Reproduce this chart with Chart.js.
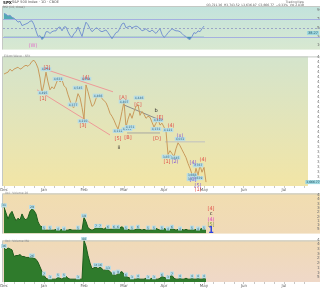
<!DOCTYPE html>
<html>
<head>
<meta charset="utf-8">
<script src="https://cdn.jsdelivr.net/npm/chart.js@4.4.1/dist/chart.umd.min.js"></script>
<style>
  body { margin: 0; width: 320px; height: 288px; overflow: hidden; background: #fff; }
  canvas { position: absolute; left: 0; }
</style>
</head>
<body>
<canvas id="rsiChart" width="320" height="53" style="top:0"></canvas>
<canvas id="priceChart" width="320" height="139" style="top:53px"></canvas>
<canvas id="volChart" width="320" height="47" style="top:190px"></canvas>
<canvas id="vol2Chart" width="320" height="51" style="top:237px"></canvas>
<script>
// x axis labels (one per tick index)
const tickLabels = ["Dec", "Jan", "Feb", "Mar", "Apr", "May", "Jun", "Jul"];
const tickIdx = [0, 20, 40, 60, 80, 100, 120, 140];

// RSI, one value per bar
const rsi = [83, 81, 77, 79, 74, 72, 68, 63, 65, 55,
  57, 59, 61, 65, 66, 57, 43, 30, 32, 23,
  28, 41, 41, 37, 41, 43, 43, 50, 52, 43,
  52, 52, 41, 32, 28, 37, 41, 52, 41, 30,
  48, 63, 57, 48, 41, 45, 50, 48, 43, 41,
  43, 45, 39, 32, 25, 32, 39, 41, 50, 59,
  61, 50, 52, 54, 50, 52, 54, 52, 48, 43,
  45, 48, 43, 41, 45, 41, 37, 43, 48, 35,
  28, 32, 39, 43, 48, 45, 43, 43, 41, 37,
  32, 30, 25, 23, 30, 39, 37, 43, 41, 48, 54];
const rsiTicks = [10, 30, 50, 70, 90];
const rsiLevels = [70, 50, 30];

// price closes
const price = [4683, 4693, 4702, 4732, 4712, 4732, 4742, 4752, 4732, 4742,
  4761, 4771, 4761, 4781, 4811, 4821, 4791, 4742, 4643, 4495,
  4584, 4702, 4604, 4525, 4555, 4535, 4584, 4633, 4604, 4624,
  4565, 4545, 4476, 4417, 4358, 4348, 4407, 4486, 4446, 4348,
  4230, 4574, 4505, 4427, 4358, 4377, 4436, 4466, 4476, 4436,
  4417, 4397, 4348, 4289, 4259, 4220, 4171, 4131, 4210, 4308,
  4407, 4151, 4230, 4289, 4239, 4308, 4358, 4377, 4269, 4308,
  4279, 4239, 4259, 4249, 4200, 4151, 4190, 4230, 4171, 4190,
  4151, 4111, 3875, 3914, 3885, 3855, 3934, 3993, 3964, 3924,
  3885, 3845, 3786, 3737, 3678, 3648, 3737, 3668, 3767, 3698,
  3747, 3599];
const priceTicks = [3600, 3650, 3700, 3750, 3800, 3850, 3900, 3950, 4000, 4050,
  4100, 4150, 4200, 4250, 4300, 4350, 4400, 4450, 4500, 4550,
  4600, 4650, 4700, 4750, 4800, 4850];

// drawn trend lines [startIdx, startPrice, endIdx, endPrice]
const upperChannel = [20.5, 4732, 54.5, 4505];
const lowerChannel = [16.5, 4525, 53, 4072];
const triangleTop = [59.5, 4377, 77, 4230];
const triangleBase = [61.5, 4092, 78, 4092];
const supportLine = [80.5, 4003, 100.5, 4003];

// wave labels [idx, price, text, colour]
const waveLabels = [
  [19.5, 4436, "[1]", "#e0504a"], [21.5, 4752, "[2]", "#e0504a"],
  [39.5, 4170, "[3]", "#e0504a"], [41, 4653, "[4]", "#e0504a"],
  [57, 4042, "[5]", "#e0504a"], [59.5, 4446, "[A]", "#e0504a"],
  [62, 4052, "[B]", "#e0504a"], [67, 4377, "[C]", "#e0504a"],
  [76.5, 4033, "[D]", "#e0504a"], [78, 4249, "[E]", "#e0504a"],
  [76, 4318, "b", "#222"], [57.5, 3944, "ii", "#222"],
  [83.5, 4171, "(4)", "#e0504a"], [88, 4072, "(x)", "#8a60d0"],
  [81.5, 3806, "[1]", "#e0504a"], [85.5, 3806, "(2)", "#8a60d0"],
  [94.5, 3796, "[4]", "#8a60d0"], [99.5, 3826, "(4)", "#e0504a"],
  [94.5, 3629, "[3]", "#8a60d0"], [97, 3570, "[5]", "#8a60d0"],
  [97, 3522, "(1)", "#e0504a"]];
// price tags on pivots [idx, price]
const pivotTags = [[19.5, 4495], [21, 4732], [27, 4633], [34.5, 4377], [37, 4545],
  [39.5, 4210], [41, 4634], [47, 4466], [57, 4112], [60, 4407], [61.5, 4131],
  [63, 4151], [67.5, 4446], [76, 4131], [77, 4220], [82, 4121], [88, 4032],
  [81.5, 3855], [85.5, 3845], [94, 3668], [97, 3767], [94, 3629], [97, 3639]];

// volume panels
const vol = [31, 24, 17, 23, 26, 20, 15, 18, 16, 23,
  18, 16, 19, 26, 29, 27, 23, 14, 9, 8,
  5, 4, 4, 5, 4, 4, 5, 4, 4, 5,
  4, 4, 4, 5, 4, 4, 4, 5, 4, 4,
  19, 14, 7, 5, 4, 5, 7, 6, 7, 6,
  5, 7, 6, 5, 5, 6, 7, 6, 7, 8,
  6, 5, 5, 4, 5, 4, 5, 6, 5, 4,
  5, 4, 5, 4, 4, 5, 6, 5, 4, 5,
  6, 5, 4, 5, 6, 5, 4, 5, 4, 5,
  4, 5, 4, 4, 5, 4, 5, 4, 5, 6, 5, 4];
const vol2 = [36, 34, 36, 35, 34, 27, 28, 28, 29, 27,
  27, 26, 26, 26, 26, 25, 24, 21, 16, 11,
  7, 4, 3, 3, 3, 3, 3, 5, 4, 3,
  5, 6, 4, 3, 3, 3, 3, 3, 3, 3,
  44, 38, 28, 20, 14, 15, 16, 14, 16, 14,
  12, 14, 13, 11, 9, 8, 7, 9, 10, 11,
  8, 6, 5, 4, 3, 3, 3, 4, 3, 3,
  3, 4, 3, 3, 4, 3, 3, 3, 4, 6,
  5, 4, 3, 6, 7, 4, 3, 3, 4, 3,
  3, 4, 3, 3, 4, 3, 3, 4, 3, 3, 4, 3];
const volTicks = [5, 10, 15, 20, 25, 30, 35, 40, 45];
const volTagIdx = [0, 14, 20, 23, 27, 30, 37, 40, 46, 48, 52, 55, 57, 61, 64, 67,
  72, 75, 79, 82, 84, 88, 94, 97, 100];
const volLabels = [[103.5, 30, "[4]", "#e0504a"], [103.5, 24, "c", "#222"],
  [103.5, 17, "(4)", "#e040c0"], [103.5, 11, "[5]", "#8a9a40"]];

const FONT = '"DejaVu Sans"';

/*
 * Gradient panel background
 */
function bgPlugin(top, bottom, full) {
  return {
    id: "bg",
    beforeDraw(chart) {
      const { ctx, chartArea: a, width } = chart;
      const g = ctx.createLinearGradient(0, a.top, 0, a.bottom);
      g.addColorStop(0, top);
      g.addColorStop(1, bottom);
      ctx.save();
      ctx.fillStyle = g;
      ctx.fillRect(a.left, a.top, (full ? width : a.right) - a.left, a.bottom - a.top);
      ctx.fillStyle = "#c4c8c4";
      ctx.fillRect(a.left - 1, a.top, 1, a.bottom - a.top);
      ctx.fillRect(a.left, a.top, width, 1);
      ctx.restore();
    },
  };
}

/*
 * Text labels placed in data coordinates
 */
function tagPlugin(items) {
  return {
    id: "tags",
    afterDatasetsDraw(chart) {
      const { ctx, scales } = chart;
      items.forEach((t) => {
        const px = scales.x.getPixelForValue(t.k);
        const py = scales.y.getPixelForValue(t.v);
        ctx.save();
        ctx.font = (t.bold ? "bold " : "") + (t.size || 5) + "px " + FONT;
        ctx.textAlign = "center";
        ctx.textBaseline = "middle";
        if (t.box) {
          const w = ctx.measureText(t.text).width + 2;
          ctx.fillStyle = t.box;
          ctx.fillRect(px - w / 2, py - 2, w, 4);
        }
        ctx.fillStyle = t.color;
        ctx.fillText(t.text, px, py + 0.3);
        ctx.restore();
      });
    },
  };
}

/*
 * Header texts in pixel positions
 */
function textPlugin(items) {
  return {
    id: "texts",
    afterDraw(chart) {
      const ctx = chart.ctx;
      items.forEach((t) => {
        ctx.save();
        ctx.font = (t.bold ? "bold " : "") + t.size + "px " + FONT;
        ctx.textAlign = t.align || "left";
        ctx.textBaseline = "middle";
        ctx.fillStyle = t.color;
        ctx.fillText(t.text, t.x, t.y);
        ctx.restore();
      });
    },
  };
}

function levelPlugin(levels) {
  return {
    id: "levels",
    beforeDatasetsDraw(chart) {
      const { ctx, chartArea: a, scales } = chart;
      levels.forEach((lv) => {
        const y = Math.round(scales.y.getPixelForValue(lv)) + 0.5;
        ctx.save();
        ctx.strokeStyle = lv === 50 ? "#9aa6c8" : "#a4b0e0";
        ctx.setLineDash(lv === 50 ? [2, 2] : []);
        ctx.beginPath();
        ctx.moveTo(a.left, y);
        ctx.lineTo(chart.width, y);
        ctx.stroke();
        ctx.restore();
      });
    },
  };
}

function xScale(show) {
  return {
    type: "linear",
    min: -0.5,
    max: 152,
    display: show,
    grid: { display: show, drawOnChartArea: false, tickLength: 2, color: "#c8c8c8" },
    border: { display: false },
    afterFit: (s) => { s.height = show ? 6 : 0; },
    afterBuildTicks: (s) => {
      const t = [];
      for (let i = 0; i <= 150; i += 5) t.push({ value: i });
      s.ticks = t;
    },
    ticks: {
      autoSkip: false,
      maxRotation: 0,
      padding: 0,
      font: { size: 4, family: FONT },
      color: "#606060",
      callback: (v) => {
        const i = tickIdx.indexOf(v);
        return i >= 0 ? tickLabels[i] : "";
      },
    },
  };
}

function yScale(min, max, list, fmt) {
  return {
    position: "right",
    min: min,
    max: max,
    grid: { display: false },
    border: { display: false },
    afterFit: (s) => { s.width = 12; },
    afterBuildTicks: (s) => { s.ticks = list.map((v) => ({ value: v })); },
    ticks: {
      autoSkip: false,
      padding: 1,
      font: { size: 4, family: FONT },
      color: "#707070",
      callback: fmt || ((v) => v),
    },
  };
}

function baseOptions(x, y, padTop) {
  return {
    responsive: false,
    animation: false,
    layout: { padding: { left: 3, top: padTop, right: 0, bottom: 0 } },
    plugins: { legend: { display: false }, tooltip: { enabled: false } },
    scales: { x: x, y: y },
  };
}

const pts = (arr) => arr.map((v, k) => ({ x: k, y: v }));
const seg = (l) => [{ x: l[0], y: l[1] }, { x: l[2], y: l[3] }];
const lineDs = (data, color, width) => ({
  data: data, borderColor: color, borderWidth: width, pointRadius: 0, tension: 0, fill: false,
});

// RSI panel
new Chart(document.getElementById("rsiChart"), {
  type: "line",
  data: {
    datasets: [
      Object.assign(lineDs(pts(rsi), "#7896d0", 1), {
        fill: { target: { value: 70 }, above: "rgba(40,150,165,0.75)", below: "rgba(0,0,0,0)" },
      }),
      Object.assign(lineDs(pts(rsi), "rgba(0,0,0,0)", 0), {
        fill: { target: { value: 30 }, above: "rgba(0,0,0,0)", below: "rgba(40,130,170,0.75)" },
      }),
    ],
  },
  options: baseOptions(xScale(false), yScale(0, 100, rsiTicks), 6),
  plugins: [
    bgPlugin("#c2e3dd", "#d8e8d0", true),
    levelPlugin(rsiLevels),
    tagPlugin([
      { k: 14.5, v: 10, text: "(W)", color: "#e070c8", size: 5 },
      { k: 154.5, v: 38, text: "38.27", color: "#1c5060", box: "#9fd8e0", size: 3.5 },
    ]),
    textPlugin([
      { x: 3, y: 2.5, text: "SPX", color: "#222", size: 4, bold: true },
      { x: 12, y: 2.5, text: "S&P 500 Index · 1D · CBOE", color: "#555", size: 3.5 },
      { x: 3, y: 7, text: "RSI (14, close)", color: "#777", size: 3 },
      { x: 304, y: 1.8, text: "TradingView", color: "#666", size: 3, align: "right" },
      { x: 304, y: 5, text: "O3,721.36  H3,743.52  L3,636.87  C3,666.77  −0.33%  Vol 2.83B", color: "#555", size: 3, align: "right" },
    ]),
  ],
});

// main price panel
const waveTags = waveLabels.map((w) => ({ k: w[0], v: w[1], text: w[2], color: w[3], size: 5 }));
const priceTags = pivotTags.map((p) => ({
  k: p[0], v: p[1], text: p[1].toLocaleString("en-US"), color: "#3a6a80", box: "#b8dde6", size: 3,
}));
new Chart(document.getElementById("priceChart"), {
  type: "line",
  data: {
    datasets: [
      lineDs(pts(price), "#c99a5c", 1),
      lineDs(seg(upperChannel), "#ee9a98", 1),
      lineDs(seg(lowerChannel), "#ee9a98", 1),
      lineDs(seg(triangleTop), "#8c8c8c", 1),
      lineDs(seg(triangleBase), "#a8a8a0", 1),
      lineDs(seg(supportLine), "#c0c0c0", 1),
    ],
  },
  options: baseOptions(xScale(true),
    yScale(3560, 4860, priceTicks, (v) => v.toLocaleString("en-US")), 1),
  plugins: [
    bgPlugin("#d4e4cc", "#f2e5a6", false),
    tagPlugin(priceTags.concat(waveTags, [
      { k: 154.5, v: 3599, text: "3,666.77", color: "#1c5060", box: "#9fd8e0", size: 3 },
    ])),
    textPlugin([{ x: 4, y: 3, text: "Elliott Wave · SPX", color: "#888", size: 3 }]),
  ],
});

// volume panel 1
const volTags = volTagIdx.map((k) => ({
  k: k, v: vol[k] + 2, text: String(vol[k]), color: "#2a5a6a", box: "#b8dde6", size: 3,
}));
new Chart(document.getElementById("volChart"), {
  type: "line",
  data: {
    datasets: [
      Object.assign(lineDs(pts(vol), "#1d5e1d", 1), { fill: "origin", backgroundColor: "#2f7b2c" }),
    ],
  },
  options: baseOptions(xScale(false), yScale(0, 47, volTicks), 0),
  plugins: [
    bgPlugin("#f1ddb0", "#f0dab8", true),
    tagPlugin(volTags.concat(
      volLabels.map((w) => ({ k: w[0], v: w[1], text: w[2], color: w[3], size: 5 })),
      [{ k: 103.5, v: 3, text: "1", color: "#2a40e0", size: 8, bold: true }])),
    textPlugin([{ x: 5, y: 3, text: "Vol · Volume 20", color: "#888", size: 3 }]),
  ],
});

// volume panel 2
const vol2Tags = volTagIdx.map((k) => ({
  k: k, v: vol2[k] + 2, text: String(vol2[k]), color: "#2a5a6a", box: "#b8dde6", size: 3,
}));
new Chart(document.getElementById("vol2Chart"), {
  type: "line",
  data: {
    datasets: [
      Object.assign(lineDs(pts(vol2), "#1d5e1d", 1), { fill: "origin", backgroundColor: "#2f7b2c" }),
    ],
  },
  options: baseOptions(xScale(true), yScale(0, 44, volTicks), 3),
  plugins: [
    bgPlugin("#f0dab6", "#efd8c8", true),
    tagPlugin(vol2Tags),
    textPlugin([{ x: 5, y: 4.5, text: "Vol · Volume MA", color: "#888", size: 3 }]),
  ],
});
</script>
</body>
</html>
